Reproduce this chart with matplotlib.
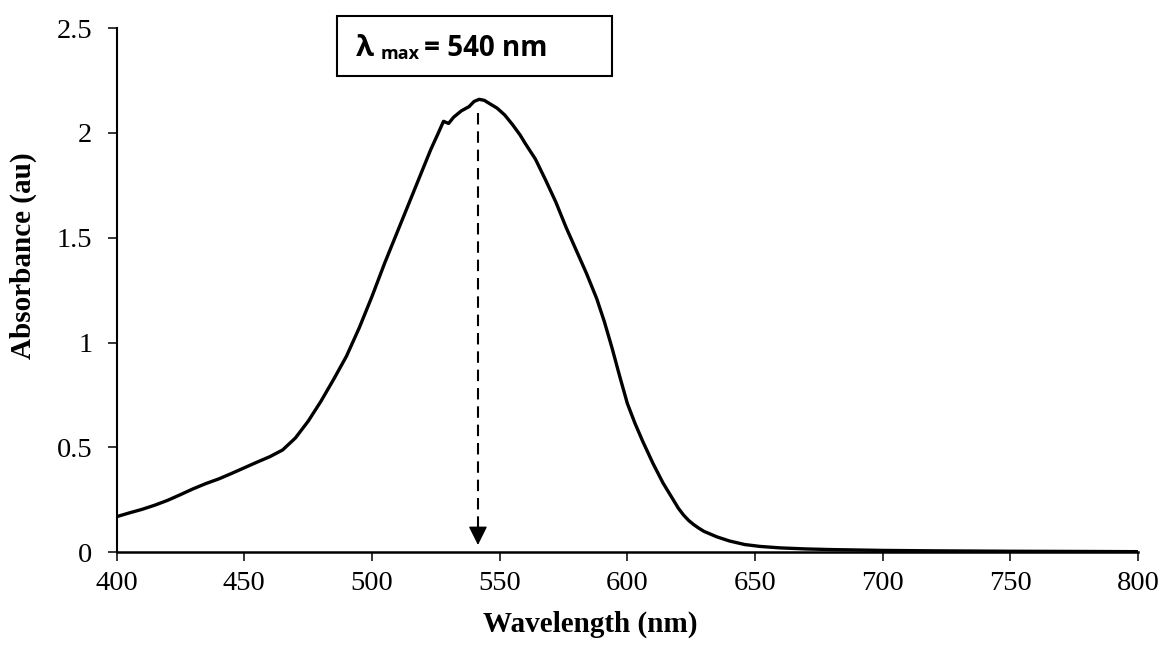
import matplotlib
matplotlib.use('Agg')
import matplotlib.pyplot as plt
from matplotlib.patches import Rectangle
from matplotlib.ticker import FuncFormatter

# spectrum
wavelength = [400, 405, 410, 415, 420, 425, 430, 435, 440, 445, 450, 455, 460, 465,
              470, 475, 480, 485, 490, 495, 500, 505, 510, 515, 520, 523, 526, 528,
              530, 532, 535, 538, 540, 542, 544, 546, 549, 552, 555, 558, 560, 564,
              568, 572, 576, 580, 584, 588, 591, 594, 597, 600, 603, 606, 610, 614,
              618, 620, 622, 624, 626, 628, 630, 635, 640, 646, 652, 660, 670, 680,
              700, 720, 750, 780, 800]
absorbance = [0.170, 0.188, 0.205, 0.225, 0.248, 0.275, 0.303, 0.328, 0.350, 0.376,
              0.403, 0.430, 0.456, 0.488, 0.545, 0.625, 0.720, 0.825, 0.935, 1.070,
              1.220, 1.380, 1.530, 1.680, 1.830, 1.920, 2.000, 2.055, 2.045, 2.075,
              2.105, 2.125, 2.150, 2.160, 2.155, 2.140, 2.118, 2.085, 2.040, 1.990,
              1.950, 1.875, 1.775, 1.670, 1.550, 1.440, 1.330, 1.210, 1.100, 0.975,
              0.840, 0.710, 0.615, 0.530, 0.425, 0.330, 0.250, 0.210, 0.178, 0.152,
              0.132, 0.115, 0.100, 0.074, 0.054, 0.037, 0.028, 0.021, 0.016, 0.013,
              0.009, 0.007, 0.005, 0.004, 0.003]

lambda_max = 541.5
x_ticks = [400, 450, 500, 550, 600, 650, 700, 750, 800]
y_ticks = [0, 0.5, 1, 1.5, 2, 2.5]

plt.rcParams['font.family'] = ['Liberation Serif', 'DejaVu Serif']

fig = plt.figure(figsize=(11.63, 6.5), dpi=100)
ax = fig.add_axes([0.1003, 0.1503, 0.8782, 0.8066])

ax.plot(wavelength, absorbance, color='black', lw=2.4, solid_joinstyle='round')

# dashed marker for lambda max
ax.plot([lambda_max, lambda_max], [2.095, 0.1], color='black', lw=1.5,
        dashes=(5.5, 3.3))
ax.annotate('', xy=(lambda_max, 0.035), xytext=(lambda_max, 0.12),
            arrowprops=dict(arrowstyle='-|>', mutation_scale=29, color='black',
                            lw=1, shrinkA=0, shrinkB=0))

ax.set_xlim(400, 800)
ax.set_ylim(0, 2.5)
ax.set_xticks(x_ticks)
ax.set_yticks(y_ticks)
ax.yaxis.set_major_formatter(FuncFormatter(lambda v, p: f'{v:g}'))

for s in ['top', 'right']:
    ax.spines[s].set_visible(False)
ax.spines['left'].set_linewidth(1.5)
ax.spines['bottom'].set_linewidth(1.8)
ax.tick_params(axis='y', direction='out', length=6.5, width=1.1, labelsize=20.5, pad=11)
ax.tick_params(axis='x', direction='out', length=6.5, width=1.1, labelsize=20.5, pad=7)

ax.set_xlabel('Wavelength (nm)', fontsize=21, fontweight='bold')
ax.xaxis.label.set_va('center')
ax.xaxis.set_label_coords(0.464, -0.137)
ax.set_ylabel('Absorbance (au)', fontsize=21, fontweight='bold')
ax.yaxis.label.set_va('center')
ax.yaxis.set_label_coords(-0.0917, 0.565)

# label box above the peak
W, H = 1163, 650
fig.patches.append(Rectangle((337 / W, 1 - 76 / H), 275 / W, 60 / H,
                             transform=fig.transFigure, fill=False,
                             edgecolor='black', lw=1.5))
box_font = ['Open Sans', 'DejaVu Sans']
fig.text(356 / W, 1 - 56 / H, 'λ', family=box_font, fontsize=21,
         fontweight='bold', va='baseline')
fig.text(381 / W, 1 - 59 / H, 'max', family=box_font, fontsize=13,
         fontweight='bold', va='baseline')
fig.text(424 / W, 1 - 56 / H, '= 540 nm', family=box_font, fontsize=20,
         fontweight='bold', va='baseline')

plt.savefig('out.png', dpi=100, facecolor='white')
plt.close()
